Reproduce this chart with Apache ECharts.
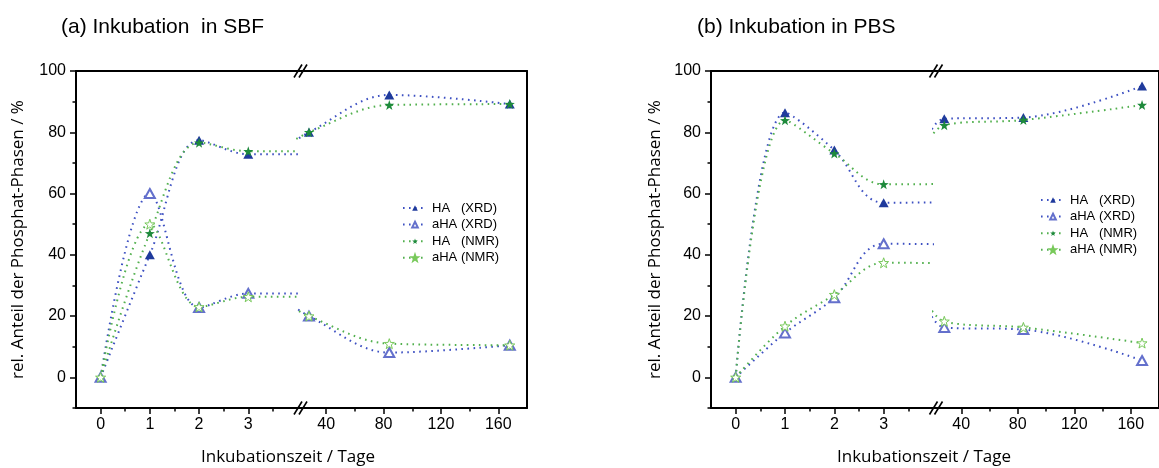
<!DOCTYPE html>
<html>
<head>
<meta charset="utf-8">
<script src="https://cdn.jsdelivr.net/npm/echarts@6/dist/echarts.min.js"></script>
<style>
  html, body { margin: 0; padding: 0; background: #fff; }
  #chart { width: 1159px; height: 468px; }
</style>
</head>
<body>
<div id="chart"></div>
<script>
// Incubation times (days) and phase fractions (%)
const days = [0, 1, 2, 3, 28, 84, 168];

const sbfHaXrd  = [0, 40, 77.4, 72.8, 80, 92.2, 89.2];
const sbfAhaXrd = [0, 60, 22.8, 27.4, 20, 8.1, 10.5];
const sbfHaNmr  = [0, 47, 76.6, 73.8, 80, 88.9, 89.2];
const sbfAhaNmr = [0, 50, 23, 26.3, 20, 11, 10.5];

const pbsHaXrd  = [0, 86.4, 74.2, 57, 84.4, 84.8, 95.1];
const pbsAhaXrd = [0, 14.5, 26, 43.6, 16.3, 15.6, 5.5];
const pbsHaNmr  = [0, 83.9, 73.1, 63, 82.3, 84, 88.9];
const pbsAhaNmr = [0, 16.7, 27, 37.4, 18.3, 16.3, 11.2];

const seriesNames = ['HA   (XRD)', 'aHA (XRD)', 'HA   (NMR)', 'aHA (NMR)'];
const panelTitles = ['(a) Inkubation  in SBF', '(b) Inkubation in PBS'];
const yTitle = 'rel. Anteil der Phosphat-Phasen / %';
const xTitle = 'Inkubationszeit / Tage';

// Tick positions: short-time segment, long-time segment, y axis
const shortLabels = [0, 1, 2, 3];
const shortMinor = [0.5, 1.5, 2.5, 3.5];
const longLabels = [40, 80, 120, 160];
const longMinor = [60, 100, 140];
const yLabels = [0, 20, 40, 60, 80, 100];
const yMinor = [-10, 10, 30, 50, 70, 90];

const panelData = [
  [sbfHaXrd, sbfAhaXrd, sbfHaNmr, sbfAhaNmr],
  [pbsHaXrd, pbsAhaXrd, pbsHaNmr, pbsAhaNmr]
];

// ---- layout & styles ----
const TOP = 71, HEIGHT = 337;
const panels = [
  { left: 76, split: 297.5, right: 527, legendLeft: 402, legendTop: 201, yTitleX: 18, xTitleX: 288, titleX: 61 },
  { left: 711, split: 933, right: 1162, legendLeft: 1040, legendTop: 193, yTitleX: 655, xTitleX: 924, titleX: 697 }
];

const STAR = 'path://M50 0 L61.76 33.82 L97.55 34.55 L69.02 56.18 L79.39 90.45 L50 70 L20.61 90.45 L30.98 56.18 L2.45 34.55 L38.24 33.82 Z';
const BLUE_LINE = '#3d50c2', GREEN_LINE = '#52b04e';
const styles = [
  { symbol: 'triangle', size: [10, 9], item: { color: '#1f3a9c' }, line: BLUE_LINE },
  { symbol: 'emptyTriangle', size: [10, 9], item: { color: '#6470cc', borderWidth: 1 }, line: BLUE_LINE },
  { symbol: STAR, size: 10, item: { color: '#1e8a3c' }, line: GREEN_LINE },
  { symbol: STAR, size: 10, item: { color: '#ffffff', borderColor: '#78c95a', borderWidth: 1 }, line: GREEN_LINE }
];

const tickFont = { fontFamily: 'Liberation Sans, Arial, sans-serif', fontSize: 16, color: '#000' };
const axisLineStyle = { color: '#000', width: 2 };

const grid = [], xAxis = [], yAxis = [], series = [], legend = [], graphic = [];

panels.forEach((p, k) => {
  const segs = [
    { left: p.left, width: p.split - p.left, min: -0.5, max: 4, labels: shortLabels, minor: shortMinor, short: true },
    { left: p.split, width: p.right - p.split, min: 20, max: 180, labels: longLabels, minor: longMinor, short: false }
  ];
  segs.forEach(s => {
    const g = grid.length;
    grid.push({ left: s.left, top: TOP, width: s.width, height: HEIGHT, containLabel: false });

    // bottom axis with labels and major ticks
    const xMain = xAxis.length;
    xAxis.push({
      type: 'value', gridIndex: g, position: 'bottom', min: s.min, max: s.max,
      axisLine: { show: true, onZero: false, lineStyle: axisLineStyle },
      axisTick: { show: true, customValues: s.labels, length: 6, lineStyle: { color: '#000', width: 1.5 } },
      axisLabel: { show: true, customValues: s.labels, margin: 9, ...tickFont },
      splitLine: { show: false }
    });
    // bottom minor ticks
    xAxis.push({
      type: 'value', gridIndex: g, position: 'bottom', min: s.min, max: s.max,
      axisLine: { show: false, onZero: false },
      axisTick: { show: true, customValues: s.minor, length: 3.5, lineStyle: { color: '#000', width: 1.5 } },
      axisLabel: { show: false }, splitLine: { show: false }
    });
    // top frame line
    xAxis.push({
      type: 'value', gridIndex: g, position: 'top', min: s.min, max: s.max,
      axisLine: { show: true, onZero: false, lineStyle: axisLineStyle },
      axisTick: { show: false }, axisLabel: { show: false }, splitLine: { show: false }
    });

    const yMain = yAxis.length;
    if (s.short) {
      yAxis.push({
        type: 'value', gridIndex: g, position: 'left', min: -10, max: 100,
        axisLine: { show: true, onZero: false, lineStyle: axisLineStyle },
        axisTick: { show: true, customValues: yLabels, length: 6, lineStyle: { color: '#000', width: 1.5 } },
        axisLabel: { show: true, customValues: yLabels, margin: 10, ...tickFont },
        splitLine: { show: false }
      });
      yAxis.push({
        type: 'value', gridIndex: g, position: 'left', min: -10, max: 100,
        axisLine: { show: false, onZero: false },
        axisTick: { show: true, customValues: yMinor, length: 3.5, lineStyle: { color: '#000', width: 1.5 } },
        axisLabel: { show: false }, splitLine: { show: false }
      });
    } else {
      // right frame line
      yAxis.push({
        type: 'value', gridIndex: g, position: 'right', min: -10, max: 100,
        axisLine: { show: true, onZero: false, lineStyle: axisLineStyle },
        axisTick: { show: false }, axisLabel: { show: false }, splitLine: { show: false }
      });
    }

    panelData[k].forEach((vals, i) => {
      const st = styles[i];
      series.push({
        type: 'line', name: seriesNames[i], xAxisIndex: xMain, yAxisIndex: yMain,
        data: days.map((d, j) => [d, vals[j]]),
        smooth: 0.35, clip: true,
        symbol: st.symbol, symbolSize: st.size, showSymbol: true,
        itemStyle: st.item,
        lineStyle: { color: st.line, width: 2, type: [1.6, 4.4] },
        emphasis: { disabled: true },
        z: 3 + i
      });
    });
  });

  legend.push({
    orient: 'vertical', left: p.legendLeft, top: p.legendTop, padding: 0,
    data: seriesNames, selectedMode: false,
    itemWidth: 24, itemHeight: 7, itemGap: 2.6,
    textStyle: { fontFamily: 'Liberation Sans, Arial, sans-serif', fontSize: 13, color: '#000', lineHeight: 14 }
  });

  // axis-break marks on the bottom axis and the top frame line
  const bx = p.split + 3;
  [TOP, TOP + HEIGHT].forEach(by => {
    [-2.5, 2.5].forEach(off => {
      graphic.push({
        type: 'line', z: 50,
        shape: { x1: bx + off - 4, y1: by + 6.5, x2: bx + off + 4, y2: by - 6.5 },
        style: { stroke: '#000', lineWidth: 1.6 }
      });
    });
  });

  graphic.push({
    type: 'text', x: p.titleX, y: 27, z: 50,
    style: { text: panelTitles[k], font: '21px "Liberation Sans", Arial, sans-serif', fill: '#000', textVerticalAlign: 'middle' }
  });
  graphic.push({
    type: 'text', x: p.yTitleX, y: TOP + HEIGHT / 2, rotation: Math.PI / 2, z: 50,
    style: { text: yTitle, font: '17px "Open Sans", sans-serif', fill: '#000', textAlign: 'center', textVerticalAlign: 'middle' }
  });
  graphic.push({
    type: 'text', x: p.xTitleX, y: 457, z: 50,
    style: { text: xTitle, font: '17px "Open Sans", sans-serif', fill: '#000', textAlign: 'center', textVerticalAlign: 'middle' }
  });
});

const chart = echarts.init(document.getElementById('chart'), null, { renderer: 'canvas' });
chart.setOption({
  animation: false,
  backgroundColor: '#fff',
  grid, xAxis, yAxis, series, legend, graphic
});
</script>
</body>
</html>
